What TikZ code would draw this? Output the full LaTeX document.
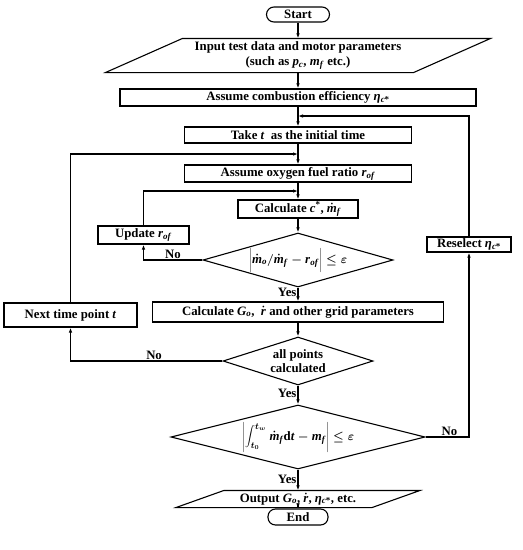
\documentclass[tikz,border=0pt]{standalone}
\usepackage[no-math]{fontspec}
\setmainfont{Liberation Serif}
\usetikzlibrary{shapes.geometric,arrows.meta}
\newcommand{\md}{\ensuremath{\dot{\mbox{\textit{m}}}}}
\newcommand{\rd}{\ensuremath{\dot{\mbox{\textit{r}}}}}
\newcommand{\sbx}[1]{\textsubscript{\textit{#1}}}
\newcommand{\etac}{\textit{η}\textsubscript{\textit{c}*}}
\begin{document}
\begin{tikzpicture}[x=1pt,y=-1pt,
  font=\fontsize{12.8}{14.5}\selectfont\bfseries\boldmath,
  base/.style={line width=1.1pt, inner sep=0pt},
  proc/.style={base, draw, rectangle},
  term/.style={base, draw, rounded corners=7.5pt},
  dec/.style={base, draw, diamond},
  io/.style={base, rectangle},
  conn/.style={line width=1.1pt, -{Latex[length=5pt,width=3.5pt]}},
  plain/.style={line width=1.1pt},
  lab/.style={inner sep=1pt}]
\useasboundingbox (0,0) rectangle (523,550);

% main column
\node[term, minimum width=63pt, minimum height=15pt] (start) at (298,14.5) {Start};
\node[io, minimum width=307pt, minimum height=33pt, align=center] (inp) at (298,55.5)
  {Input test data and motor parameters\\(such as \textit{p}\sbx{c}, \textit{m}\sbx{f} etc.)};
\draw[plain] ([xshift=38.5pt]inp.north west) -- ([xshift=38.5pt]inp.north east)
  -- ([xshift=-38.5pt]inp.south east) -- ([xshift=-38.5pt]inp.south west) -- cycle;
\node[proc, minimum width=356pt, minimum height=17pt] (ace) at (298,97.5)
  {Assume combustion efficiency \etac};
\node[proc, minimum width=227pt, minimum height=16pt] (take) at (298,135)
  {Take \textit{t}\ \ as the initial time};
\node[proc, minimum width=227pt, minimum height=17pt] (aof) at (298,173.5)
  {Assume oxygen fuel ratio \textit{r}\sbx{of}};
\node[proc, minimum width=120pt, minimum height=18pt] (calc) at (298,209)
  {Calculate \textit{c}\textsuperscript{*}, \md\sbx{f}};
\node[dec, minimum width=190pt, minimum height=54pt] (d1) at (298,260) {};
\node (d1t) at (d1)
  {$\biggl|$\md\sbx{o}$\bigm/$\md\sbx{f} $-$ \textit{r}\sbx{of}$\biggr|\le\varepsilon$};
\node[proc, minimum width=291pt, minimum height=20pt] (cg) at (298,312)
  {Calculate \textit{G}\sbx{o}, \ \rd\ and other grid parameters};
\node[dec, minimum width=150pt, minimum height=48pt] (d2) at (298,361) {};
\node[align=center] (d2t) at (d2) {all points\\calculated};
\node[dec, minimum width=254pt, minimum height=64pt] (d3) at (298,437) {};
\node (d3t) at (d3)
  {$\Biggl|\displaystyle\int_{t_0}^{t_w}$ \md\sbx{f}d\textit{t} $-$ \textit{m}\sbx{f}$\Biggr|\le\varepsilon$};
\node[io, minimum width=195pt, minimum height=16pt] (out) at (298,499)
  {Output \textit{G}\sbx{o}, \rd, \etac, etc.};
\draw[plain] ([xshift=24pt]out.north west) -- ([xshift=24pt]out.north east)
  -- ([xshift=-24pt]out.south east) -- ([xshift=-24pt]out.south west) -- cycle;
\node[term, minimum width=60pt, minimum height=16pt] (end) at (298,517) {End};

% side boxes
\node[proc, minimum width=91pt, minimum height=18pt] (upd) at (143.5,235) {Update \textit{r}\sbx{of}};
\node[proc, minimum width=133pt, minimum height=24pt] (next) at (70.5,315) {Next time point \textit{t}};
\node[proc, minimum width=84pt, minimum height=15pt] (res) at (469,244.5) {Reselect \etac};

% junctions on the main line
\coordinate (j1) at (298,116);
\coordinate (j2) at (298,154);
\coordinate (j3) at (298,191);

% connectors
\draw[conn] (start) -- (inp);
\draw[conn] (inp.south) -- (ace.north);
\draw[conn] (ace.south) -- (take.north);
\draw[conn] (take.south) -- (aof.north);
\draw[conn] (aof.south) -- (calc.north);
\draw[conn] (calc.south) -- (d1.north);
\draw[conn] (d1.south) -- node[lab, left, pos=0.35] {Yes} (cg.north);
\draw[conn] (cg.south) -- (d2.north);
\draw[conn] (d2.south) -- node[lab, left, pos=0.4] {Yes} (d3.north);
\draw[conn] (d3.south) -- node[lab, left, pos=0.45] {Yes} (out.north);
\draw[conn] (out.south) -- (end.north);

\draw[conn] (d1.west) -- node[lab, above, pos=0.5] {No} (d1.west -| upd.south) -- (upd.south);
\draw[conn] (upd.north) |- (j3);
\draw[conn] (d2.west) -- node[lab, above, pos=0.45] {No} (d2.west -| next.south) -- (next.south);
\draw[conn] (next.north) |- (j2);
\draw[conn] (d3.east) -- node[lab, above, pos=0.55] {No} (d3.east -| res.south) -- (res.south);
\draw[conn] (res.north) |- (j1);
\end{tikzpicture}
\end{document}
